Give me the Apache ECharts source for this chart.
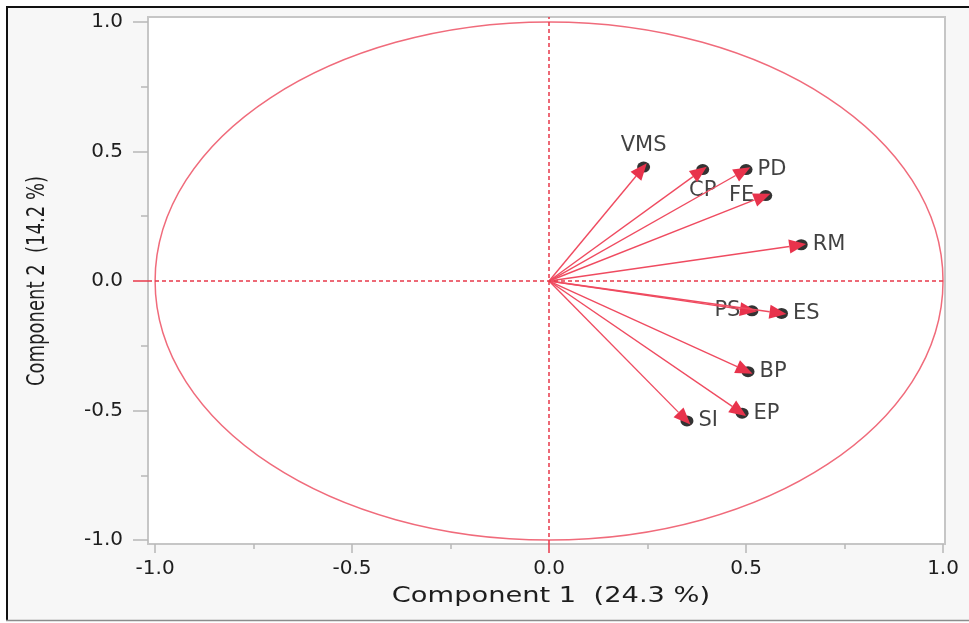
<!DOCTYPE html>
<html>
<head>
<meta charset="utf-8">
<script src="https://cdn.jsdelivr.net/npm/echarts@6/dist/echarts.min.js"></script>
<style>
html,body{margin:0;padding:0;background:#ffffff;}
#chart{width:969px;height:623px;}
</style>
</head>
<body>
<div id="chart"></div>
<script>
// ---- data (loadings) ----
const variables  = ['VMS', 'CP', 'PD', 'FE', 'RM', 'PS', 'ES', 'BP', 'EP', 'SI'];
const component1 = [0.24, 0.39, 0.50, 0.55, 0.64, 0.515, 0.59, 0.505, 0.49, 0.35];
const component2 = [0.44, 0.43, 0.43, 0.33, 0.14, -0.115, -0.125, -0.35, -0.51, -0.54];
const xTickLabels = [-1.0, -0.5, 0.0, 0.5, 1.0];
const yTickLabels = [-1.0, -0.5, 0.0, 0.5, 1.0];
const xMinorTicks = [-0.75, -0.25, 0.25, 0.75];
const yMinorTicks = [-0.75, -0.25, 0.25, 0.75];
const circleRadius = [1];
const xTitle = 'Component 1  (24.3 %)';
const yTitle = 'Component 2  (14.2 %)';

// ---- style ----
const FONT = 'DejaVu Sans';
const labelSide = {VMS:'top', CP:'bottom', PD:'right', FE:'left', RM:'right',
                   PS:'left', ES:'right', BP:'right', EP:'right', SI:'right'};
const TICK_GRAY = '#b8b8b8';
const RED_TICK = '#e8394a';

const chart = echarts.init(document.getElementById('chart'), null, {renderer: 'canvas'});

const points = variables.map((n, i) => ({
  name: n,
  value: [component1[i], component2[i]],
  label: {position: labelSide[n]}
}));

const XMIN = -1.018, XMAX = 1.005, YMIN = -1.015, YMAX = 1.019;

function xAx(extra) {
  return Object.assign({
    type: 'value', min: XMIN, max: XMAX, position: 'bottom',
    axisLine: {show: false, onZero: false}, splitLine: {show: false},
    axisLabel: {show: false}
  }, extra);
}
function yAx(extra) {
  return Object.assign({
    type: 'value', min: YMIN, max: YMAX, position: 'left',
    axisLine: {show: false, onZero: false}, splitLine: {show: false},
    axisLabel: {show: false}
  }, extra);
}

const option = {
  backgroundColor: '#f7f7f7',
  animation: false,
  grid: {
    left: 148, top: 17, width: 797, height: 527,
    show: true, backgroundColor: '#ffffff',
    borderColor: '#c6c6c6', borderWidth: 2
  },
  xAxis: [
    xAx({
      axisTick: {show: true, customValues: [-1, -0.5, 0.5, 1], length: 9,
                 lineStyle: {color: TICK_GRAY, width: 1.5}},
      axisLabel: {show: true, customValues: xTickLabels, margin: 15,
                  formatter: v => Number(v).toFixed(1),
                  fontFamily: FONT, fontSize: 20, color: '#1e1e1e'}
    }),
    xAx({axisTick: {show: true, customValues: xMinorTicks, length: 5,
                    lineStyle: {color: TICK_GRAY, width: 1.5}}}),
    xAx({axisTick: {show: true, customValues: [0], length: 9,
                    lineStyle: {color: RED_TICK, width: 1.5}}})
  ],
  yAxis: [
    yAx({
      axisTick: {show: true, customValues: [-1, -0.5, 0.5, 1], length: 15,
                 lineStyle: {color: TICK_GRAY, width: 1.5}},
      axisLabel: {show: true, customValues: yTickLabels, margin: 25,
                  formatter: v => Number(v).toFixed(1),
                  fontFamily: FONT, fontSize: 20, color: '#1e1e1e'}
    }),
    yAx({axisTick: {show: true, customValues: yMinorTicks, length: 7,
                    lineStyle: {color: TICK_GRAY, width: 1.5}}}),
    yAx({axisTick: {show: true, customValues: [0], length: 15,
                    lineStyle: {color: RED_TICK, width: 1.5}}})
  ],
  graphic: [
    // outer frame
    {type: 'rect', shape: {x: 0, y: 0, width: 969, height: 6}, style: {fill: '#ffffff'}, silent: true},
    {type: 'rect', shape: {x: 0, y: 0, width: 6, height: 623}, style: {fill: '#ffffff'}, silent: true},
    {type: 'rect', shape: {x: 0, y: 621, width: 969, height: 2}, style: {fill: '#ffffff'}, silent: true},
    {type: 'line', shape: {x1: 6, y1: 7, x2: 969, y2: 7}, style: {stroke: '#111111', lineWidth: 2}, silent: true},
    {type: 'line', shape: {x1: 7, y1: 6, x2: 7, y2: 621}, style: {stroke: '#111111', lineWidth: 2}, silent: true},
    {type: 'line', shape: {x1: 6, y1: 620.5, x2: 969, y2: 620.5}, style: {stroke: '#8c8c8c', lineWidth: 1.5}, silent: true},
    // axis titles
    {type: 'text', x: 551, y: 596, scaleX: 1.24, silent: true,
     style: {text: xTitle, font: '22px "DejaVu Sans"', fill: '#1e1e1e',
             align: 'center', verticalAlign: 'middle'}},
    {type: 'text', x: 37, y: 281, rotation: Math.PI / 2, scaleY: 1.4, silent: true,
     style: {text: yTitle, font: '18px "DejaVu Sans"', fill: '#1e1e1e',
             align: 'center', verticalAlign: 'middle'}}
  ],
  series: [
    {
      // unit correlation circle
      type: 'custom', silent: true, z: 1,
      data: circleRadius.map(r => [0, 0, r]),
      renderItem: function (params, api) {
        const c = api.coord([api.value(0), api.value(1)]);
        const r = api.value(2);
        const ex = api.coord([r, 0]);
        const ey = api.coord([0, r]);
        return {
          type: 'ellipse',
          shape: {cx: c[0], cy: c[1], rx: ex[0] - c[0], ry: c[1] - ey[1]},
          style: {fill: 'none', stroke: '#f06b7b', lineWidth: 1.5}
        };
      }
    },
    {
      // points with labels + zero reference lines
      type: 'scatter', z: 3, silent: true,
      symbol: 'circle', symbolSize: [13, 11],
      itemStyle: {color: '#000000'},
      label: {show: true, formatter: '{b}', distance: 5,
              fontFamily: FONT, fontSize: 21, color: '#111111'},
      data: points,
      markLine: {
        silent: true, symbol: 'none', animation: false,
        label: {show: false},
        lineStyle: {color: '#e8394a', type: [4, 3], width: 1.5},
        data: [{xAxis: 0}, {yAxis: 0}]
      }
    },
    {
      // loading arrows
      type: 'custom', z: 4, silent: true,
      data: variables.map((n, i) => [component1[i], component2[i]]),
      renderItem: function (params, api) {
        const o = api.coord([0, 0]);
        const p = api.coord([api.value(0), api.value(1)]);
        const dx = p[0] - o[0], dy = p[1] - o[1];
        const L = Math.hypot(dx, dy);
        const ux = dx / L, uy = dy / L, nx = -uy, ny = ux;
        const tip = [p[0] + ux * 5, p[1] + uy * 5];
        const base = [p[0] - ux * 12, p[1] - uy * 12];
        const hw = 7;
        return {
          type: 'group',
          children: [
            {type: 'line', shape: {x1: o[0], y1: o[1], x2: base[0], y2: base[1]},
             style: {stroke: '#ef4b60', lineWidth: 1.4}},
            {type: 'polygon',
             shape: {points: [tip, [base[0] + nx * hw, base[1] + ny * hw], [base[0] - nx * hw, base[1] - ny * hw]]},
             style: {fill: '#e8334c'}}
          ]
        };
      }
    }
  ]
};

chart.setOption(option);
</script>
</body>
</html>
